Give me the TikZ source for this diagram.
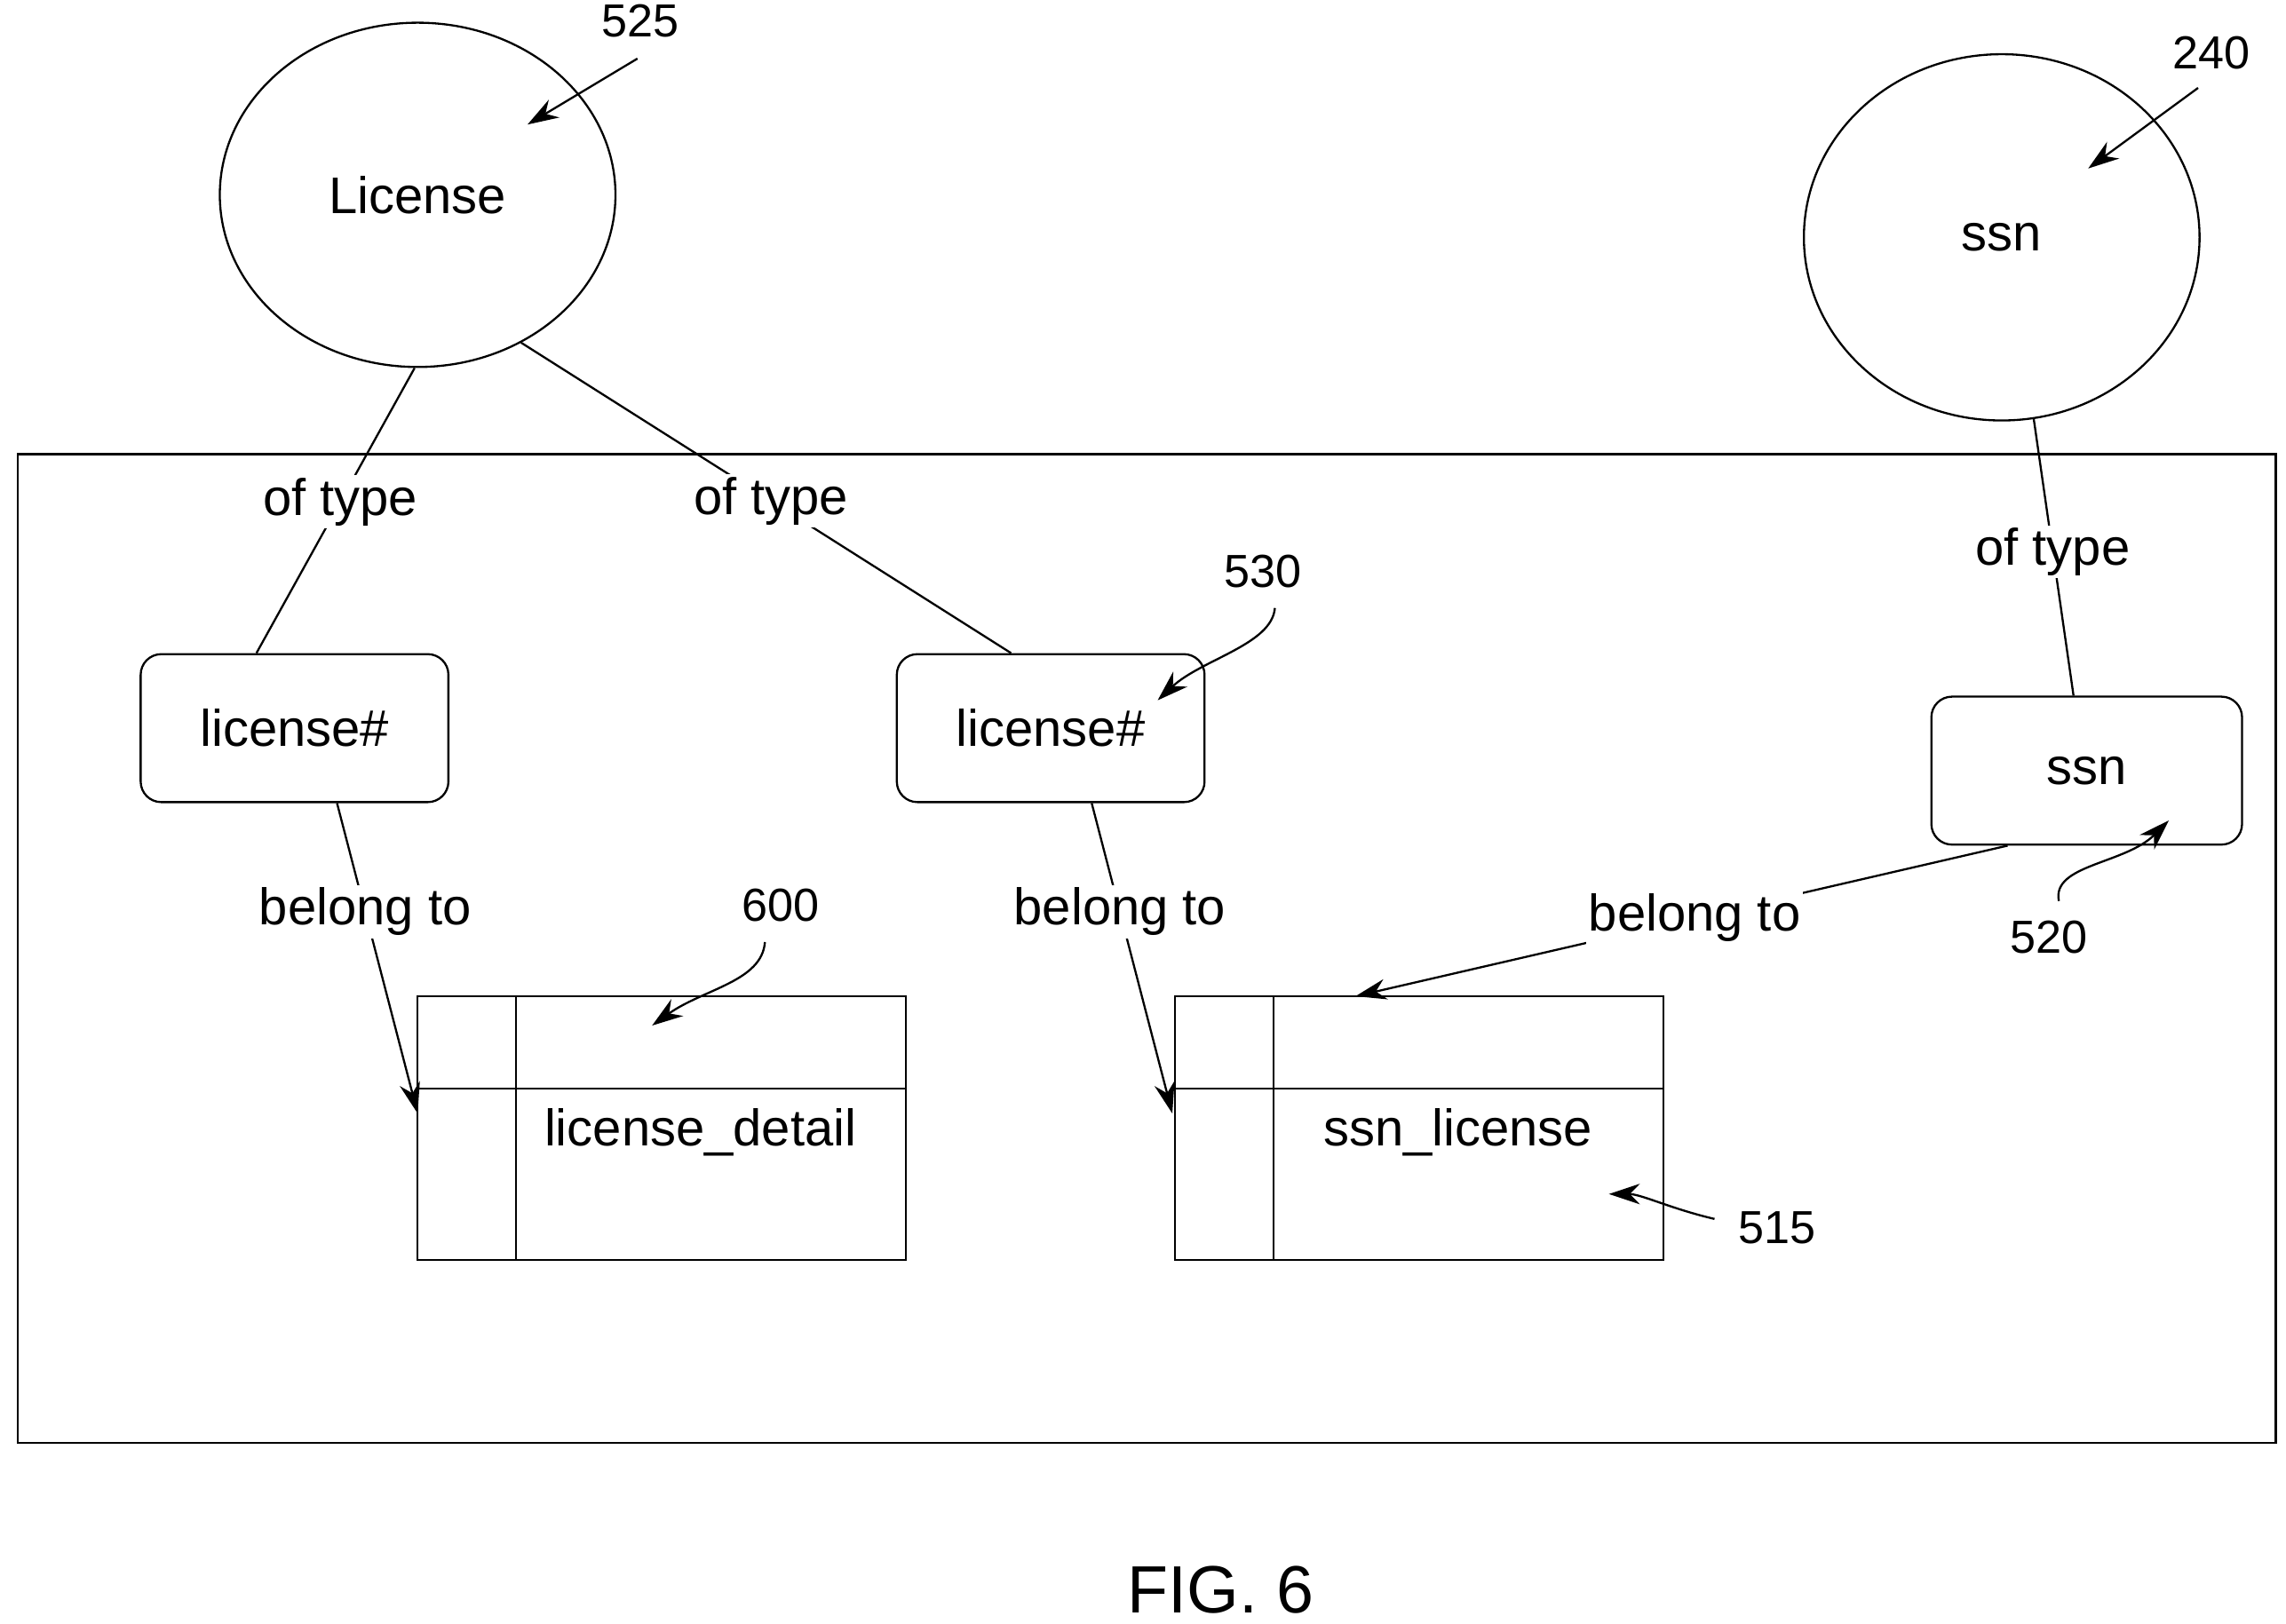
\documentclass[tikz,border=0pt]{standalone}
\usepackage{fontspec}
\setmainfont{Liberation Sans}
\usetikzlibrary{positioning}
\usetikzlibrary{shapes.geometric}
\usetikzlibrary{arrows.meta}
\tikzset{
  concept/.style={draw, ellipse, minimum width=270*0.02cm, minimum height=235*0.02cm},
  field/.style={draw, rounded corners=8pt, minimum width=210*0.02cm, minimum height=101*0.02cm},
  lbl/.style={fill=white, inner sep=1pt, font=\fontsize{20}{24}\selectfont},
  num/.style={font=\fontsize{18}{21}\selectfont},
  tip/.style={-{Stealth[length=12pt,width=8pt]}},
}
\begin{document}
\begin{tikzpicture}[x=0.02cm,y=-0.02cm, line width=0.8pt, font=\fontsize{20}{24}\selectfont]
    \useasboundingbox (0,0) rectangle (1560,1108);
    % outer frame
    \draw (12,310) rectangle (1553,985);
    % concepts
    \path (285,133) node [concept] (lic) {License};
    \path (1366,162) node [concept, minimum height=250*0.02cm] (ssnc) {ssn};
    % fields
    \path (201,497) node [field] (lf1) {license\#};
    \path (717,497) node [field] (lf2) {license\#};
    \path (1424,526) node [field, minimum width=212*0.02cm] (sf) {ssn};
    % tables
    \draw (285,680) rectangle (618,860) (352,680) -- (352,860) (285,743) -- (618,743);
    \path (478,773) node (ld) {license\_detail};
    \coordinate (ldw) at (285,760);
    \draw (802,680) rectangle (1135,860) (869,680) -- (869,860) (802,743) -- (1135,743);
    \path (995,773) node (sl) {ssn\_license};
    \coordinate (slw) at (800,760);
    \coordinate (sln) at (925,680);
    % of type
    \draw (lic.-91) -- (lf1.north -| 175,0) node[pos=0.47,lbl] {of type};
    \draw (lic.-55) -- (lf2.north -| 690,0) node[pos=0.51,lbl] {of type};
    \draw (ssnc.-80) -- (sf.north -| 1415,0) node[pos=0.48,lbl] {of type};
    % belong to
    \draw [tip] (lf1.south -| 230,0) -- (ldw) node[pos=0.35,lbl] {belong to};
    \draw [tip] (lf2.south -| 745,0) -- (slw) node[pos=0.35,lbl] {belong to};
    \draw [tip] (sf.south -| 1370,0) -- (sln) node[pos=0.48,lbl] {belong to};
    % reference numbers
    \path (437,14) node [num] (n525) {525};
    \draw [tip] (435,40) -- (360,85);
    \path (1509,36) node [num] (n240) {240};
    \draw [tip] (1500,60) -- (1425,115);
    \path (862,390) node [num] (n530) {530};
    \draw [tip] (870,415) .. controls (868,440) and (820,450) .. (790,478);
    \path (533,618) node [num] (n600) {600};
    \draw [tip] (522,643) .. controls (520,670) and (480,675) .. (445,700);
    \path (1398,640) node [num] (n520) {520};
    \draw [tip] (1405,615) .. controls (1400,590) and (1450,590) .. (1480,560);
    \path (1213,838) node [num] (n515) {515};
    \draw [tip] (1170,832) .. controls (1140,825) and (1120,815) .. (1098,815);
    \path (833,1085) node [font=\fontsize{26}{30}\selectfont] (fig) {FIG. 6};
\end{tikzpicture}
\end{document}
